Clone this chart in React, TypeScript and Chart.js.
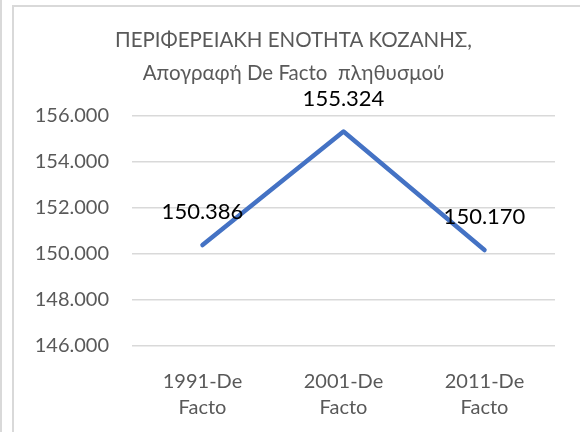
import React, { useEffect, useRef } from "react";
import { Chart, registerables } from "chart.js";

Chart.register(...registerables);

const categories: string[][] = [
  ["1991-De", "Facto"],
  ["2001-De", "Facto"],
  ["2011-De", "Facto"],
];
const populationValues: number[] = [150386, 155324, 150170];
const titleLines: string[] = [
  "ΠΕΡΙΦΕΡΕΙΑΚΗ ΕΝΟΤΗΤΑ ΚΟΖΑΝΗΣ,",
  "Απογραφή De Facto  πληθυσμού",
];
const yMin = 146000;
const yMax = 156000;
const yStep = 2000;

const FONT = 'Lato, "Noto Sans", sans-serif';

function fmt(n: number): string {
  const th = Math.floor(n / 1000);
  const rest = Math.round(n % 1000);
  return th + "." + String(rest).padStart(3, "0");
}

const valueLabelPlugin = {
  id: "valueLabels",
  afterDatasetsDraw(chart: any) {
    const ctx = chart.ctx;
    const meta = chart.getDatasetMeta(0);
    ctx.save();
    ctx.font = `22px ${FONT}`;
    ctx.fillStyle = "#000000";
    ctx.textAlign = "center";
    ctx.textBaseline = "middle";
    meta.data.forEach((pt: any, i: number) => {
      ctx.fillText(fmt(populationValues[i]), pt.x, pt.y - 33);
    });
    ctx.restore();
  },
};

export default function App() {
  const canvasRef = useRef<HTMLCanvasElement | null>(null);

  useEffect(() => {
    const canvas = canvasRef.current;
    if (!canvas) return;
    const chart = new Chart(canvas, {
      type: "line",
      data: {
        labels: categories,
        datasets: [
          {
            data: populationValues,
            borderColor: "#4472C4",
            backgroundColor: "#4472C4",
            borderWidth: 4.5,
            borderCapStyle: "round",
            borderJoinStyle: "round",
            pointRadius: 0,
            pointHoverRadius: 0,
            tension: 0,
            fill: false,
          },
        ],
      },
      options: {
        animation: false,
        responsive: false,
        maintainAspectRatio: false,
        events: [],
        layout: { padding: { top: 0, left: 32, right: 25, bottom: 11 } },
        plugins: {
          legend: { display: false },
          tooltip: { enabled: false },
          title: {
            display: true,
            text: titleLines,
            color: "#595959",
            font: { family: FONT, size: 20.5, weight: "normal", lineHeight: "33px" },
            padding: { top: 23.5, bottom: 26.5 },
          },
        },
        scales: {
          x: {
            type: "category",
            offset: true,
            afterFit(scale: any) {
              scale.height = 75;
            },
            grid: { display: false, drawTicks: false },
            border: { display: false },
            ticks: {
              color: "#595959",
              font: { family: FONT, size: 20, lineHeight: "26px" },
              padding: 23,
              maxRotation: 0,
              autoSkip: false,
            },
          },
          y: {
            min: yMin,
            max: yMax,
            afterFit(scale: any) {
              scale.width = 100;
            },
            grid: { color: "#d9d9d9", lineWidth: 1.5, drawTicks: false },
            border: { display: false },
            ticks: {
              stepSize: yStep,
              color: "#595959",
              font: { family: FONT, size: 20 },
              padding: 23,
              callback: (v: any) => fmt(Number(v)),
            },
          },
        },
      },
      plugins: [valueLabelPlugin],
    });
    return () => chart.destroy();
  }, []);

  return (
    <div
      style={{
        position: "fixed",
        left: 0,
        top: 0,
        width: 580,
        height: 432,
        background: "#ffffff",
        overflow: "hidden",
      }}
    >
      <div style={{ position: "absolute", left: 0, top: 0, width: 2, height: 432, background: "#d9d9d9" }} />
      <div style={{ position: "absolute", left: 12, top: 5, width: 2, height: 427, background: "#d9d9d9" }} />
      <div style={{ position: "absolute", left: 12, top: 5, width: 568, height: 2, background: "#d9d9d9" }} />
      <canvas
        ref={canvasRef}
        width={580}
        height={432}
        style={{ position: "absolute", left: 0, top: 0, width: 580, height: 432 }}
      />
    </div>
  );
}
